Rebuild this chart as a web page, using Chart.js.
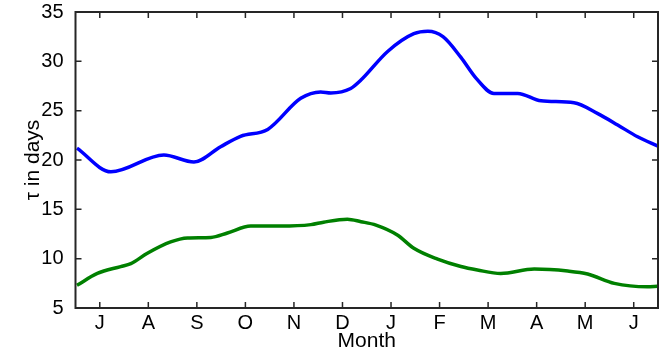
<!DOCTYPE html>
<html>
<head>
<meta charset="utf-8">
<script src="https://cdn.jsdelivr.net/npm/chart.js@4"></script>
<style>
  body { margin: 0; background: #fff; }
</style>
</head>
<body>
<canvas id="tauChart" width="672" height="352"></canvas>
<script>
// month ticks, July through June
var monthLabels = ['J', 'A', 'S', 'O', 'N', 'D', 'J', 'F', 'M', 'A', 'M', 'J'];

// position in months (0 = July) and tau in days
var upperPos = [-0.47, 0.23, 1.32, 1.94, 2.49, 2.90, 3.46, 4.14, 4.55, 4.76, 5.17, 5.38, 5.93, 6.47, 6.76, 7.07, 7.44, 7.75, 8.12, 8.61, 9.09, 9.77, 10.26, 10.67, 11.08, 11.50];
var upperTau = [21.2, 18.8, 20.5, 19.8, 21.35, 22.4, 23.1, 26.25, 26.9, 26.8, 27.25, 28.1, 31.0, 32.8, 33.05, 32.5, 30.4, 28.3, 26.75, 26.75, 26.0, 25.8, 24.7, 23.55, 22.35, 21.4];

var lowerPos = [-0.47, -0.05, 0.43, 0.64, 0.98, 1.46, 1.81, 2.29, 2.63, 3.11, 3.73, 4.35, 4.61, 5.10, 5.38, 5.69, 6.13, 6.47, 6.96, 7.44, 7.78, 8.26, 8.95, 9.64, 10.05, 10.60, 11.28, 11.49];
var lowerTau = [7.3, 8.5, 9.2, 9.5, 10.55, 11.7, 12.1, 12.15, 12.6, 13.3, 13.3, 13.45, 13.7, 14.0, 13.75, 13.4, 12.4, 11.05, 9.95, 9.2, 8.85, 8.5, 8.95, 8.75, 8.45, 7.5, 7.15, 7.2];

var yTicks = [5, 10, 15, 20, 25, 30, 35];

function toPoints(xs, ys) {
    return xs.map(function (x, i) { return { x: x, y: ys[i] }; });
}

// matlab style box with ticks pointing inwards
var boxTicks = {
    id: 'boxTicks',
    afterDraw: function (chart) {
        var ctx = chart.ctx;
        var a = chart.chartArea;
        var xs = chart.scales.x, ys = chart.scales.y;
        var len = 6;
        ctx.save();
        ctx.strokeStyle = '#262626';
        ctx.lineWidth = 1.5;
        ctx.beginPath();
        xs.ticks.forEach(function (t) {
            var px = xs.getPixelForValue(t.value);
            ctx.moveTo(px, a.bottom); ctx.lineTo(px, a.bottom - len);
            ctx.moveTo(px, a.top); ctx.lineTo(px, a.top + len);
        });
        ys.ticks.forEach(function (t) {
            var py = ys.getPixelForValue(t.value);
            ctx.moveTo(a.left, py); ctx.lineTo(a.left + len, py);
            ctx.moveTo(a.right, py); ctx.lineTo(a.right - len, py);
        });
        ctx.stroke();
        ctx.lineWidth = 2;
        ctx.strokeRect(a.left, a.top, a.right - a.left, a.bottom - a.top);
        ctx.restore();
    }
};

Chart.defaults.font.family = '"Liberation Sans", Arial, sans-serif';
Chart.defaults.color = '#000';

var ctx = document.getElementById('tauChart').getContext('2d');
var myChart = new Chart(ctx, {
    type: 'line',
    data: {
        datasets: [{
            data: toPoints(upperPos, upperTau),
            borderColor: '#0000ff',
            borderWidth: 3.5,
            pointRadius: 0,
            cubicInterpolationMode: 'monotone',
            fill: false
        }, {
            data: toPoints(lowerPos, lowerTau),
            borderColor: '#008000',
            borderWidth: 3.5,
            pointRadius: 0,
            cubicInterpolationMode: 'monotone',
            fill: false
        }]
    },
    options: {
        responsive: false,
        animation: false,
        layout: { padding: { top: 12, right: 14, left: 0, bottom: 0 } },
        plugins: { legend: { display: false }, tooltip: { enabled: false } },
        scales: {
            x: {
                type: 'linear',
                min: -0.5,
                max: 11.5,
                grid: { display: false },
                border: { display: false },
                afterBuildTicks: function (scale) {
                    scale.ticks = monthLabels.map(function (m, i) { return { value: i }; });
                },
                afterFit: function (scale) {
                    scale.height = 44;
                    scale.paddingLeft = 0;
                    scale.paddingRight = 0;
                },
                ticks: {
                    autoSkip: false,
                    maxRotation: 0,
                    padding: -5,
                    font: { size: 20 },
                    callback: function (v) { return monthLabels[v]; }
                },
                title: {
                    display: true,
                    text: 'Month',
                    font: { size: 21, lineHeight: 1 },
                    padding: { top: 0, bottom: 0 }
                }
            },
            y: {
                min: 5,
                max: 35,
                grid: { display: false },
                border: { display: false },
                afterBuildTicks: function (scale) {
                    scale.ticks = yTicks.map(function (v) { return { value: v }; });
                },
                afterFit: function (scale) {
                    scale.width = 75.5;
                    scale.paddingTop = 0;
                    scale.paddingBottom = 0;
                },
                ticks: {
                    padding: 4,
                    font: { size: 20 }
                },
                title: {
                    display: true,
                    text: 'τ in days',
                    font: { size: 21 },
                    padding: { top: 21, bottom: 0 }
                }
            }
        }
    },
    plugins: [boxTicks]
});
</script>
</body>
</html>
